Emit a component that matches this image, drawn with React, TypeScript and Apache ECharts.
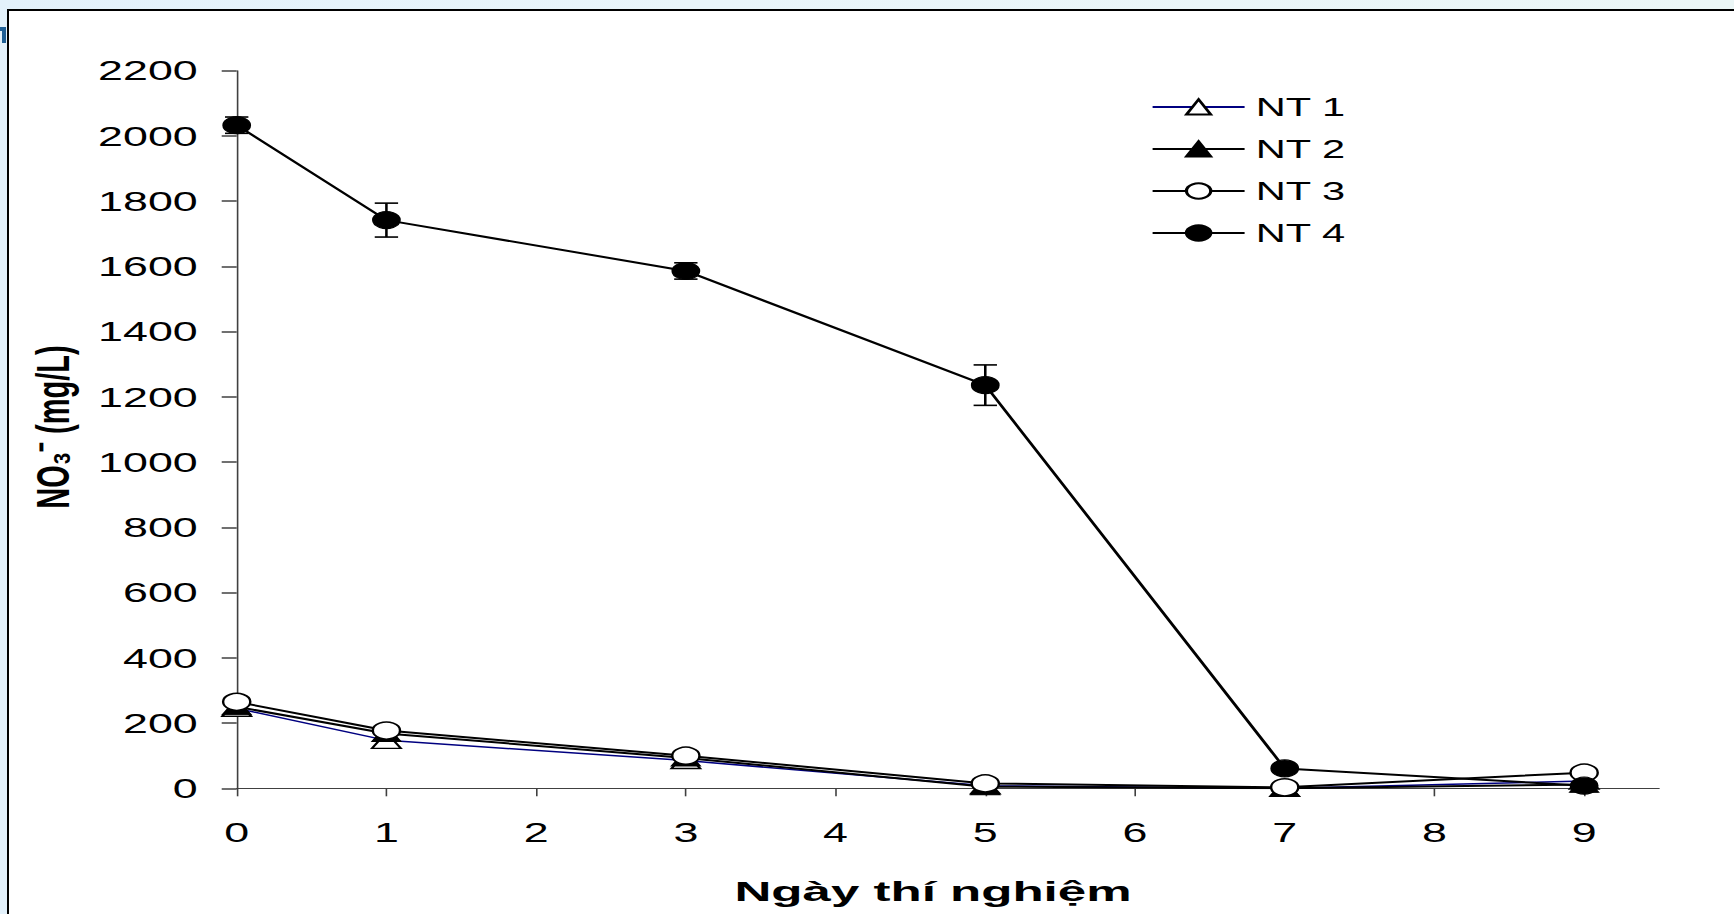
import React, { useEffect, useRef } from "react";
import * as echarts from "echarts";

// ---- data ----
const days = [0, 1, 3, 5, 7, 9];
const nt1 = [245, 147, 85, 8, 0, 22];
const nt2 = [250, 168, 93, 5, 0, 12];
const nt3 = [265, 177, 100, 15, 3, 48];
const nt4 = [2033, 1742, 1586, 1236, 61, 8];
const nt4Err = [25, 52, 25, 62, 6, 4];
const legendNames = ["NT 1", "NT 2", "NT 3", "NT 4"];
const xTickValues = [0, 1, 2, 3, 4, 5, 6, 7, 8, 9];
const yAxisTitle = "NO₃⁻ (mg/L)";
const xAxisTitle = "Ngày thí nghiệm";

// ---- layout (the original picture is stretched horizontally) ----
const S = 1.6;
const W = 1734;
const H = 914;
const CW = W / S;
const FONT = "'Liberation Sans', Arial, Helvetica, sans-serif";

export default function App() {
  const ref = useRef<HTMLDivElement>(null);

  useEffect(() => {
    if (!ref.current) return;
    const chart = echarts.init(ref.current, null, { renderer: "svg", width: CW, height: H });
    const pair = (ys: number[]) => days.map((d, i) => [d, ys[i]]);
    const axisColor = "#404040";

    const option: any = {
      animation: false,
      textStyle: { fontFamily: FONT },
      grid: {
        left: 236.7 / S,
        right: CW - 1659 / S,
        top: 70.7,
        bottom: H - 788.3,
        containLabel: false,
      },
      xAxis: {
        type: "value",
        min: 0,
        max: 9.5,
        interval: 1,
        axisLine: { show: true, onZero: false, lineStyle: { color: axisColor, width: 1 } },
        axisTick: { show: true, length: 8, customValues: xTickValues, lineStyle: { color: axisColor, width: 1 } },
        axisLabel: {
          customValues: xTickValues,
          margin: 30,
          fontSize: 28,
          color: "#000",
          fontFamily: FONT,
          formatter: (v: number) => String(v),
        },
        splitLine: { show: false },
      },
      yAxis: {
        type: "value",
        min: 0,
        max: 2200,
        interval: 200,
        axisLine: { show: true, lineStyle: { color: axisColor, width: 1 } },
        axisTick: { show: true, length: 15 / S, lineStyle: { color: axisColor, width: 1.5 } },
        axisLabel: {
          margin: 39 / S,
          fontSize: 28,
          color: "#000",
          fontFamily: FONT,
          formatter: (v: number) => String(v),
        },
        splitLine: { show: false },
      },
      legend: {
        orient: "vertical",
        left: 1143 / S,
        top: 89,
        itemWidth: 92 / S,
        itemHeight: 19,
        itemGap: 16,
        selectedMode: false,
        data: legendNames,
        textStyle: { fontSize: 26, color: "#000", fontFamily: FONT, lineHeight: 25, padding: [0, 0, 0, 2] },
      },
      graphic: [
        {
          type: "text",
          x: 53 / S,
          y: 427,
          rotation: Math.PI / 2,
          style: {
            text: yAxisTitle,
            font: `bold 29px ${FONT}`,
            fill: "#000",
            align: "center",
            verticalAlign: "middle",
            textAlign: "center",
            textVerticalAlign: "middle",
          },
        },
        {
          type: "text",
          x: 933 / S,
          y: 891,
          scaleX: 1.14,
          style: {
            text: xAxisTitle,
            font: `bold 28px ${FONT}`,
            fill: "#000",
            align: "center",
            verticalAlign: "middle",
            textAlign: "center",
            textVerticalAlign: "middle",
          },
        },
      ],
      series: [
        {
          type: "custom",
          name: "err4",
          silent: true,
          z: 1,
          data: days.map((d, i) => [d, nt4[i] - nt4Err[i], nt4[i] + nt4Err[i]]),
          encode: { x: 0, y: [1, 2] },
          renderItem: (params: any, api: any) => {
            const x = api.value(0);
            const lo = api.coord([x, api.value(1)]);
            const hi = api.coord([x, api.value(2)]);
            const hw = 7.3;
            const style = { stroke: "#000", lineWidth: 1.6 };
            return {
              type: "group",
              children: [
                { type: "line", shape: { x1: lo[0], y1: lo[1], x2: hi[0], y2: hi[1] }, style },
                { type: "line", shape: { x1: lo[0] - hw, y1: lo[1], x2: lo[0] + hw, y2: lo[1] }, style },
                { type: "line", shape: { x1: hi[0] - hw, y1: hi[1], x2: hi[0] + hw, y2: hi[1] }, style },
              ],
            };
          },
        },
        {
          name: "NT 1",
          type: "line",
          data: pair(nt1),
          symbol: "triangle",
          symbolSize: [18, 16],
          z: 3,
          lineStyle: { color: "#000080", width: 1.5 },
          itemStyle: { color: "#fff", borderColor: "#000", borderWidth: 1.5 },
          emphasis: { disabled: true },
        },
        {
          name: "NT 2",
          type: "line",
          data: pair(nt2),
          symbol: "triangle",
          symbolSize: [18, 16],
          z: 3,
          lineStyle: { color: "#000", width: 2 },
          itemStyle: { color: "#000", borderColor: "#000", borderWidth: 1 },
          emphasis: { disabled: true },
        },
        {
          name: "NT 3",
          type: "line",
          data: pair(nt3),
          symbol: "circle",
          symbolSize: 17,
          z: 3,
          lineStyle: { color: "#000", width: 2 },
          itemStyle: { color: "#fff", borderColor: "#000", borderWidth: 1.5 },
          emphasis: { disabled: true },
        },
        {
          name: "NT 4",
          type: "line",
          data: pair(nt4),
          symbol: "circle",
          symbolSize: 17,
          z: 3,
          lineStyle: { color: "#000", width: 2 },
          itemStyle: { color: "#000", borderColor: "#000", borderWidth: 1 },
          emphasis: { disabled: true },
        },
      ],
    };

    chart.setOption(option);
    return () => chart.dispose();
  }, []);

  return (
    <div
      style={{
        position: "fixed",
        left: 0,
        top: 0,
        width: W,
        height: H,
        overflow: "hidden",
        background: "linear-gradient(90deg, #e3f1fb 0%, #e9f5fa 40%, #ebf6f6 100%)",
      }}
    >
      <div style={{ position: "absolute", left: 0, top: 27, width: 6, height: 4, background: "#1f5f95" }} />
      <div style={{ position: "absolute", left: 2, top: 27, width: 4, height: 16, background: "#1f5f95" }} />
      <div
        style={{
          position: "absolute",
          left: 7,
          top: 9,
          right: 0,
          bottom: 0,
          background: "#fff",
          borderLeft: "2px solid #000",
          borderTop: "2px solid #000",
        }}
      />
      <div
        ref={ref}
        style={{
          position: "absolute",
          left: 0,
          top: 0,
          width: CW,
          height: H,
          transform: `scaleX(${S})`,
          transformOrigin: "0 0",
        }}
      />
    </div>
  );
}
